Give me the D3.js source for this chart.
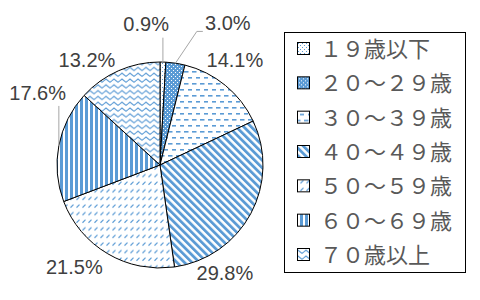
<!DOCTYPE html>
<html>
<head>
<meta charset="utf-8">
<script src="https://cdn.jsdelivr.net/npm/d3@7"></script>
<style>
  body { margin: 0; background: #fff; }
  svg { display: block; }
</style>
</head>
<body>
<div id="chart"></div>
<script>
// data
var categories = ["１９歳以下", "２０～２９歳", "３０～３９歳", "４０～４９歳", "５０～５９歳", "６０～６９歳", "７０歳以上"];
var values = [0.9, 3.0, 14.1, 29.8, 21.5, 17.6, 13.2];
var labelTexts = values.map(function(v){ return v.toFixed(1) + "%"; });

var width = 480, height = 300;
var cx = 160, cy = 165, radius = 103;
var blue = "#5B9BD5";

// where excel put the labels (angle deg from top, distance from centre)
var labelPolar = [[-5.6, 142], [25.6, 157], [35.5, 129], [149, 126], [220.1, 133], [300.5, 142], [325.2, 128]];

var svg = d3.select("#chart").append("svg")
    .attr("width", width)
    .attr("height", height);

var defs = svg.append("defs");

function pat(id, w, h, rot) {
    var p = defs.append("pattern")
        .attr("id", id)
        .attr("patternUnits", "userSpaceOnUse")
        .attr("width", w)
        .attr("height", h);
    if (rot) p.attr("patternTransform", "rotate(" + rot + ")");
    return p;
}

//19 and under: light dots
var p0 = pat("p0", 4, 4);
p0.append("rect").attr("width", 4).attr("height", 4).attr("fill", "#fff");
p0.append("rect").attr("x", 0).attr("y", 0).attr("width", 1).attr("height", 1).attr("fill", blue);
p0.append("rect").attr("x", 2).attr("y", 2).attr("width", 1).attr("height", 1).attr("fill", blue);

//20s: blue with white dots
var p1 = pat("p1", 4, 4);
p1.append("rect").attr("width", 4).attr("height", 4).attr("fill", blue);
p1.append("rect").attr("x", 1).attr("y", 1).attr("width", 1).attr("height", 1).attr("fill", "#fff");
p1.append("rect").attr("x", 3).attr("y", 3).attr("width", 1).attr("height", 1).attr("fill", "#fff");

//30s: dashed horizontal
var p2 = pat("p2", 8, 12);
p2.append("rect").attr("width", 8).attr("height", 12).attr("fill", "#fff");
p2.append("rect").attr("x", 0).attr("y", 2).attr("width", 4.5).attr("height", 1.6).attr("fill", blue);
p2.append("rect").attr("x", 4).attr("y", 8).attr("width", 4.5).attr("height", 1.6).attr("fill", blue);

//40s: wide downward diagonal
var p3 = pat("p3", 5.3, 10, -45);
p3.append("rect").attr("width", 5.3).attr("height", 10).attr("fill", "#fff");
p3.append("rect").attr("width", 2.8).attr("height", 10).attr("fill", blue);

//50s: dashed upward diagonal
var p4 = pat("p4", 6, 7.6);
p4.append("rect").attr("width", 6).attr("height", 7.6).attr("fill", "#fff");
p4.append("path").attr("d", "M0.5,4.5L3.5,1.5").attr("stroke", blue).attr("stroke-width", 1.2);

//60s: wide vertical
var p5 = pat("p5", 5, 5);
p5.append("rect").attr("width", 5).attr("height", 5).attr("fill", "#fff");
p5.append("rect").attr("width", 3).attr("height", 5).attr("fill", blue);

//70+: wave
var p6 = pat("p6", 8, 5.8);
p6.append("rect").attr("width", 8).attr("height", 5.8).attr("fill", "#fff");
p6.append("path").attr("d", "M0,2.6L2,1L4,2.6L6,4.2L8,2.6").attr("stroke", blue).attr("stroke-width", 1.1).attr("fill", "none");

var fills = ["url(#p0)", "url(#p1)", "url(#p2)", "url(#p3)", "url(#p4)", "url(#p5)", "url(#p6)"];

var pie = d3.pie().sort(null).value(function(d){ return d; });
var arcs = pie(values);
var arc = d3.arc().innerRadius(0).outerRadius(radius);

var g = svg.append("g").attr("transform", "translate(" + cx + "," + cy + ")");

g.selectAll("path.slice")
    .data(arcs)
    .enter().append("path")
    .attr("class", "slice")
    .attr("d", arc)
    .attr("fill", function(d, i){ return fills[i]; })
    .attr("stroke", "#000")
    .attr("stroke-width", 1)
    .attr("stroke-linejoin", "round");

function polar(angDeg, r) {
    var a = angDeg * Math.PI / 180;
    return [r * Math.sin(a), -r * Math.cos(a)];
}

var labelPos = labelPolar.map(function(p){ return polar(p[0], p[1]); });

// leader lines for the small/offset ones
var leaders = [];
arcs.forEach(function(d, i) {
    var mid = (d.startAngle + d.endAngle) / 2 * 180 / Math.PI;
    var edge = polar(mid, radius);
    var lp = labelPos[i];
    if (i == 0) leaders.push([edge, [edge[0], lp[1] + 14]]);
    if (i == 1) leaders.push([edge, [lp[0] - 31, lp[1] + 8], [lp[0] - 25, lp[1] + 8]]);
    if (i == 5) leaders.push([edge, [edge[0], lp[1] + 13]]);
});

g.selectAll("path.leader")
    .data(leaders)
    .enter().append("path")
    .attr("class", "leader")
    .attr("d", d3.line())
    .attr("fill", "none")
    .attr("stroke", "#a6a6a6")
    .attr("stroke-width", 1);

g.selectAll("text.lbl")
    .data(labelTexts)
    .enter().append("text")
    .attr("class", "lbl")
    .attr("x", function(d, i){ return labelPos[i][0]; })
    .attr("y", function(d, i){ return labelPos[i][1]; })
    .attr("dy", "0.35em")
    .attr("text-anchor", "middle")
    .attr("font-family", "'Liberation Sans', Arial, sans-serif")
    .attr("font-size", "20px")
    .attr("fill", "#404040")
    .text(function(d){ return d; });

// legend
var lg = svg.append("g").attr("class", "legend");
lg.append("rect")
    .attr("x", 284.5).attr("y", 32.5)
    .attr("width", 181).attr("height", 240)
    .attr("fill", "#fff")
    .attr("stroke", "#000")
    .attr("stroke-width", 1);

var rowY = d3.scalePoint().domain(categories).range([49, 255]);

var items = lg.selectAll("g.item")
    .data(categories)
    .enter().append("g")
    .attr("class", "item")
    .attr("transform", function(d){ return "translate(0," + rowY(d) + ")"; });

items.append("rect")
    .attr("x", 297.5).attr("y", -6.5)
    .attr("width", 12).attr("height", 12)
    .attr("fill", function(d, i){ return fills[i]; })
    .attr("stroke", "#000")
    .attr("stroke-width", 1);

items.append("text")
    .attr("x", 320)
    .attr("dy", "0.36em")
    .attr("font-family", "'Noto Sans CJK JP', sans-serif")
    .attr("font-size", "22px")
    .attr("fill", "#595959")
    .text(function(d){ return d; });
</script>
</body>
</html>
